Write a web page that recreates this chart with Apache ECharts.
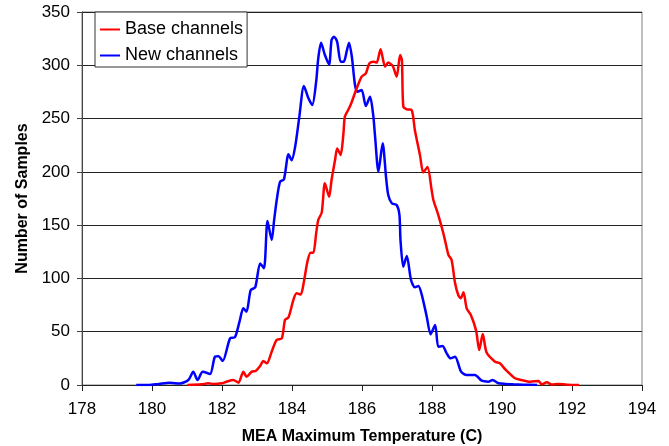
<!DOCTYPE html>
<html>
<head>
<meta charset="utf-8">
<script src="https://cdn.jsdelivr.net/npm/echarts@6/dist/echarts.min.js"></script>
<style>
  html, body { margin: 0; padding: 0; background: #fff; }
  #chart { width: 669px; height: 446px; }
</style>
</head>
<body>
<div id="chart"></div>
<script>
// Sample counts per MEA maximum temperature (C)
const baseName = 'Base channels';
const newName = 'New channels';

const baseTemp = [181.01, 181.42, 181.6, 181.75, 181.99, 182.13, 182.32, 182.47, 182.61, 182.7,
  182.85, 182.97, 183.09, 183.18, 183.28, 183.42, 183.56, 183.71, 183.8, 183.9,
  184.04, 184.13, 184.25, 184.34, 184.44, 184.53, 184.61, 184.69, 184.75, 184.85,
  184.94, 185.06, 185.13, 185.23, 185.29, 185.39, 185.47, 185.51, 185.63, 185.71,
  185.83, 185.99, 186.11, 186.21, 186.34, 186.42, 186.53, 186.66, 186.75, 186.88,
  186.99, 187.09, 187.14, 187.18, 187.28, 187.42, 187.51, 187.66, 187.75, 187.87,
  187.99, 188.04, 188.18, 188.3, 188.37, 188.47, 188.56, 188.66, 188.75, 188.82,
  188.9, 188.99, 189.11, 189.26, 189.35, 189.45, 189.56, 189.8, 189.94, 190.11,
  190.37, 190.56, 190.8, 191.04, 191.14, 191.28, 191.42, 191.61, 191.85, 192.13, 192.2];
const baseCount = [0, 0.6, 1.6, 1, 1.6, 3.1, 4.7, 2.2, 12.5, 7.8,
  12.5, 13.4, 17.8, 22.5, 20.3, 31.3, 42.2, 43.8, 61, 63.5,
  79.8, 86, 85, 97, 115.7, 124.1, 124, 142.3, 154.8, 162,
  189.2, 176.7, 192.4, 211.1, 222, 215.8, 236.2, 251.8, 259.6, 265.8,
  276.8, 289.3, 292.4, 301.8, 303.4, 302.5, 315, 298.7, 302.5, 299.3,
  289.3, 309.6, 304.9, 261.1, 258.7, 258, 239.3, 215, 199.5, 204.5,
  183, 173.6, 159.5, 145.4, 136, 122, 117.3, 95.4, 84.4, 81.3,
  87, 72, 65.7, 51, 32.8, 47.9, 30.4, 21.9, 20.3, 14.1,
  6.3, 4.7, 3.1, 3.8, 0.6, 2.5, 0.5, 1, 0.3, 0, 0];

const newTemp = [179.55, 179.9, 180.2, 180.51, 180.8, 181.04, 181.18, 181.3, 181.45, 181.66,
  181.8, 181.9, 182.02, 182.23, 182.37, 182.5, 182.61, 182.7, 182.82, 182.95,
  183.09, 183.2, 183.3, 183.42, 183.49, 183.57, 183.66, 183.77, 183.9, 183.99,
  184.09, 184.21, 184.34, 184.47, 184.58, 184.69, 184.75, 184.83, 184.94, 185.06,
  185.13, 185.2, 185.29, 185.39, 185.48, 185.56, 185.63, 185.71, 185.8, 185.87,
  185.99, 186.11, 186.23, 186.32, 186.37, 186.47, 186.59, 186.69, 186.75, 186.85,
  186.99, 187.07, 187.1, 187.18, 187.28, 187.4, 187.51, 187.61, 187.71, 187.85,
  187.96, 188.09, 188.18, 188.3, 188.42, 188.53, 188.66, 188.83, 188.99, 189.23,
  189.42, 189.61, 189.73, 189.9, 190.1, 190.32, 190.6, 191.0];
const newCount = [0, 0, 1, 2, 1.5, 4.7, 12.5, 4.7, 12.5, 10.3,
  26.6, 27, 22.5, 43.8, 44.8, 59.4, 72, 68.8, 89, 91.7,
  114, 109.5, 154, 136, 155, 175, 190.8, 193, 216.5, 211,
  223.6, 251.8, 280.6, 269, 262.7, 284.6, 306.4, 321.2, 309.6, 300.8,
  323.7, 326.8, 322, 303.4, 303.4, 312.8, 321.2, 308, 281.5, 275.2,
  276.8, 261.8, 270.5, 253.4, 234.6, 200, 226.8, 193.9, 178.3, 170.5,
  168.9, 159.5, 136, 111, 121, 98.5, 91.7, 92.9, 84.4, 64.1,
  47.6, 56.3, 35.9, 36.6, 29.7, 25, 26.6, 12.5, 9.4, 9.4,
  4, 3.1, 4.7, 1.6, 1, 0.6, 0.3, 0];

const xTitle = 'MEA Maximum Temperature (C)';
const yTitle = 'Number of Samples';

const pairs = (xs, ys) => xs.map((x, i) => [x, ys[i]]);

const font = 'Liberation Sans, Arial, sans-serif';
const chart = echarts.init(document.getElementById('chart'), null, { renderer: 'canvas' });

chart.setOption({
  animation: false,
  backgroundColor: '#ffffff',
  grid: {
    left: 82, right: 27, top: 12, bottom: 61,
    containLabel: false,
    outerBoundsMode: 'none',
    show: true, borderColor: '#808080', borderWidth: 1, backgroundColor: 'transparent'
  },
  legend: {
    data: [baseName, newName],
    orient: 'vertical',
    left: 95, top: 12,
    padding: [7, 4, 1, 5],
    itemGap: 5,
    itemWidth: 20, itemHeight: 2,
    icon: 'rect',
    backgroundColor: '#ffffff',
    borderColor: '#333333', borderWidth: 1,
    textStyle: { fontFamily: font, fontSize: 18, color: '#000', lineHeight: 21 }
  },
  xAxis: {
    type: 'value',
    min: 178, max: 194, interval: 2,
    name: xTitle,
    nameLocation: 'middle',
    nameGap: 44,
    nameTextStyle: { fontFamily: font, fontSize: 16, fontWeight: 'bold', color: '#000' },
    axisLine: { show: true, onZero: false, lineStyle: { color: '#222', width: 1 } },
    axisTick: { show: true, inside: false, length: 6, lineStyle: { color: '#222' } },
    axisLabel: { fontFamily: font, fontSize: 17, color: '#000', margin: 16 },
    splitLine: { show: false }
  },
  yAxis: {
    type: 'value',
    min: 0, max: 350, interval: 50,
    name: yTitle,
    nameLocation: 'middle',
    nameGap: 50,
    nameTextStyle: { fontFamily: font, fontSize: 16, fontWeight: 'bold', color: '#000' },
    axisLine: { show: true, lineStyle: { color: '#444', width: 1 } },
    axisTick: { show: true, inside: false, length: 5, lineStyle: { color: '#444' } },
    axisLabel: { fontFamily: font, fontSize: 17, color: '#000', margin: 12 },
    splitLine: { show: true, lineStyle: { color: '#222', width: 1 } }
  },
  series: [
    {
      name: newName,
      type: 'line',
      data: pairs(newTemp, newCount),
      smooth: 0.25,
      showSymbol: false,
      symbol: 'none',
      lineStyle: { color: '#0000ff', width: 2.5 },
      itemStyle: { color: '#0000ff' }
    },
    {
      name: baseName,
      type: 'line',
      data: pairs(baseTemp, baseCount),
      smooth: 0.25,
      showSymbol: false,
      symbol: 'none',
      lineStyle: { color: '#ff0000', width: 2.5 },
      itemStyle: { color: '#ff0000' }
    }
  ]
});
</script>
</body>
</html>
